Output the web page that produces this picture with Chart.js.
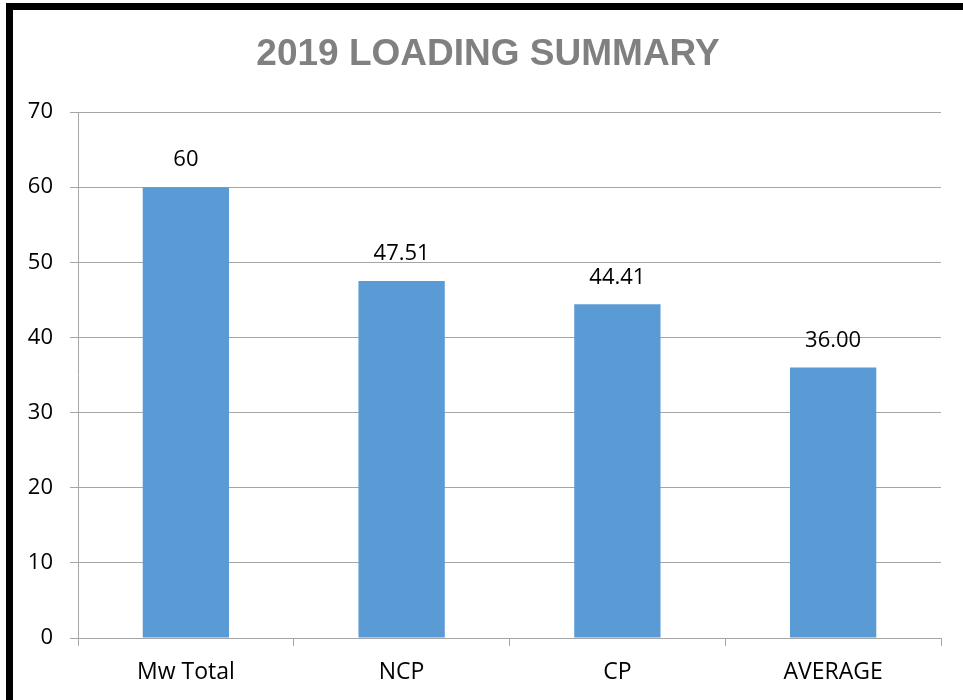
<!DOCTYPE html>
<html>
<head>
<meta charset="utf-8">
<script src="https://cdn.jsdelivr.net/npm/chart.js@4/dist/chart.umd.min.js"></script>
<style>
  html, body { margin: 0; padding: 0; background: #fff; }
  #wrap { position: relative; width: 963px; height: 700px; overflow: hidden; }
  #frame { position: absolute; left: 6px; top: 3px; width: 1100px; height: 900px;
           border-left: 7px solid #000; border-top: 7px solid #000; }
  canvas { position: absolute; left: 0; top: 0; }
</style>
</head>
<body>
<div id="wrap">
  <div id="frame"></div>
  <canvas id="c" width="963" height="700"></canvas>
</div>
<script>
const titleText = "2019 LOADING SUMMARY";
const categories = ["Mw Total", "NCP", "CP", "AVERAGE"];
const values = [60, 47.51, 44.41, 36.00];
const valueLabels = ["60", "47.51", "44.41", "36.00"];
const yTicks = [0, 10, 20, 30, 40, 50, 60, 70];

const gridColor = "#a6a6a6";
const fontFamily = "'Open Sans', 'Liberation Sans', sans-serif";

const dataLabelPlugin = {
  id: "dataLabels",
  afterDatasetsDraw(chart) {
    const ctx = chart.ctx;
    const meta = chart.getDatasetMeta(0);
    ctx.save();
    ctx.font = "22px " + fontFamily;
    ctx.fillStyle = "#000";
    ctx.textAlign = "center";
    ctx.textBaseline = "middle";
    meta.data.forEach((bar, i) => {
      ctx.fillText(valueLabels[i], bar.x, bar.y - 27);
    });
    ctx.restore();
  }
};

const titlePlugin = {
  id: "offsetTitle",
  afterDraw(chart) {
    const ctx = chart.ctx;
    ctx.save();
    ctx.font = "bold 37px 'Liberation Sans', Arial, sans-serif";
    ctx.fillStyle = "#808080";
    ctx.textAlign = "center";
    ctx.textBaseline = "middle";
    ctx.fillText(titleText, 488, 55);
    ctx.restore();
  }
};

new Chart(document.getElementById("c"), {
  type: "bar",
  data: {
    labels: categories,
    datasets: [{
      data: values,
      backgroundColor: "#5b9bd5",
      borderWidth: 0,
      categoryPercentage: 1.0,
      barPercentage: 0.4
    }]
  },
  options: {
    responsive: false,
    animation: false,
    events: [],
    layout: { padding: { left: 14, right: 22, top: 112, bottom: 15 } },
    plugins: {
      legend: { display: false },
      tooltip: { enabled: false },
      title: { display: false }
    },
    scales: {
      x: {
        offset: true,
        grid: { display: true, drawOnChartArea: false, offset: true, tickLength: 8, color: gridColor },
        border: { display: true, color: gridColor },
        ticks: { color: "#000", font: { family: fontFamily, size: 23 }, padding: 13, maxRotation: 0 },
        afterFit(s) { s.height = 47; }
      },
      y: {
        min: 0,
        max: 70,
        afterBuildTicks(s) { s.ticks = yTicks.map(v => ({ value: v })); },
        grid: { color: gridColor, tickLength: 8 },
        border: { display: true, color: gridColor },
        ticks: { color: "#000", font: { family: fontFamily, size: 22 }, padding: 17 },
        afterFit(s) { s.width = 64; }
      }
    }
  },
  plugins: [dataLabelPlugin, titlePlugin]
});
</script>
</body>
</html>
